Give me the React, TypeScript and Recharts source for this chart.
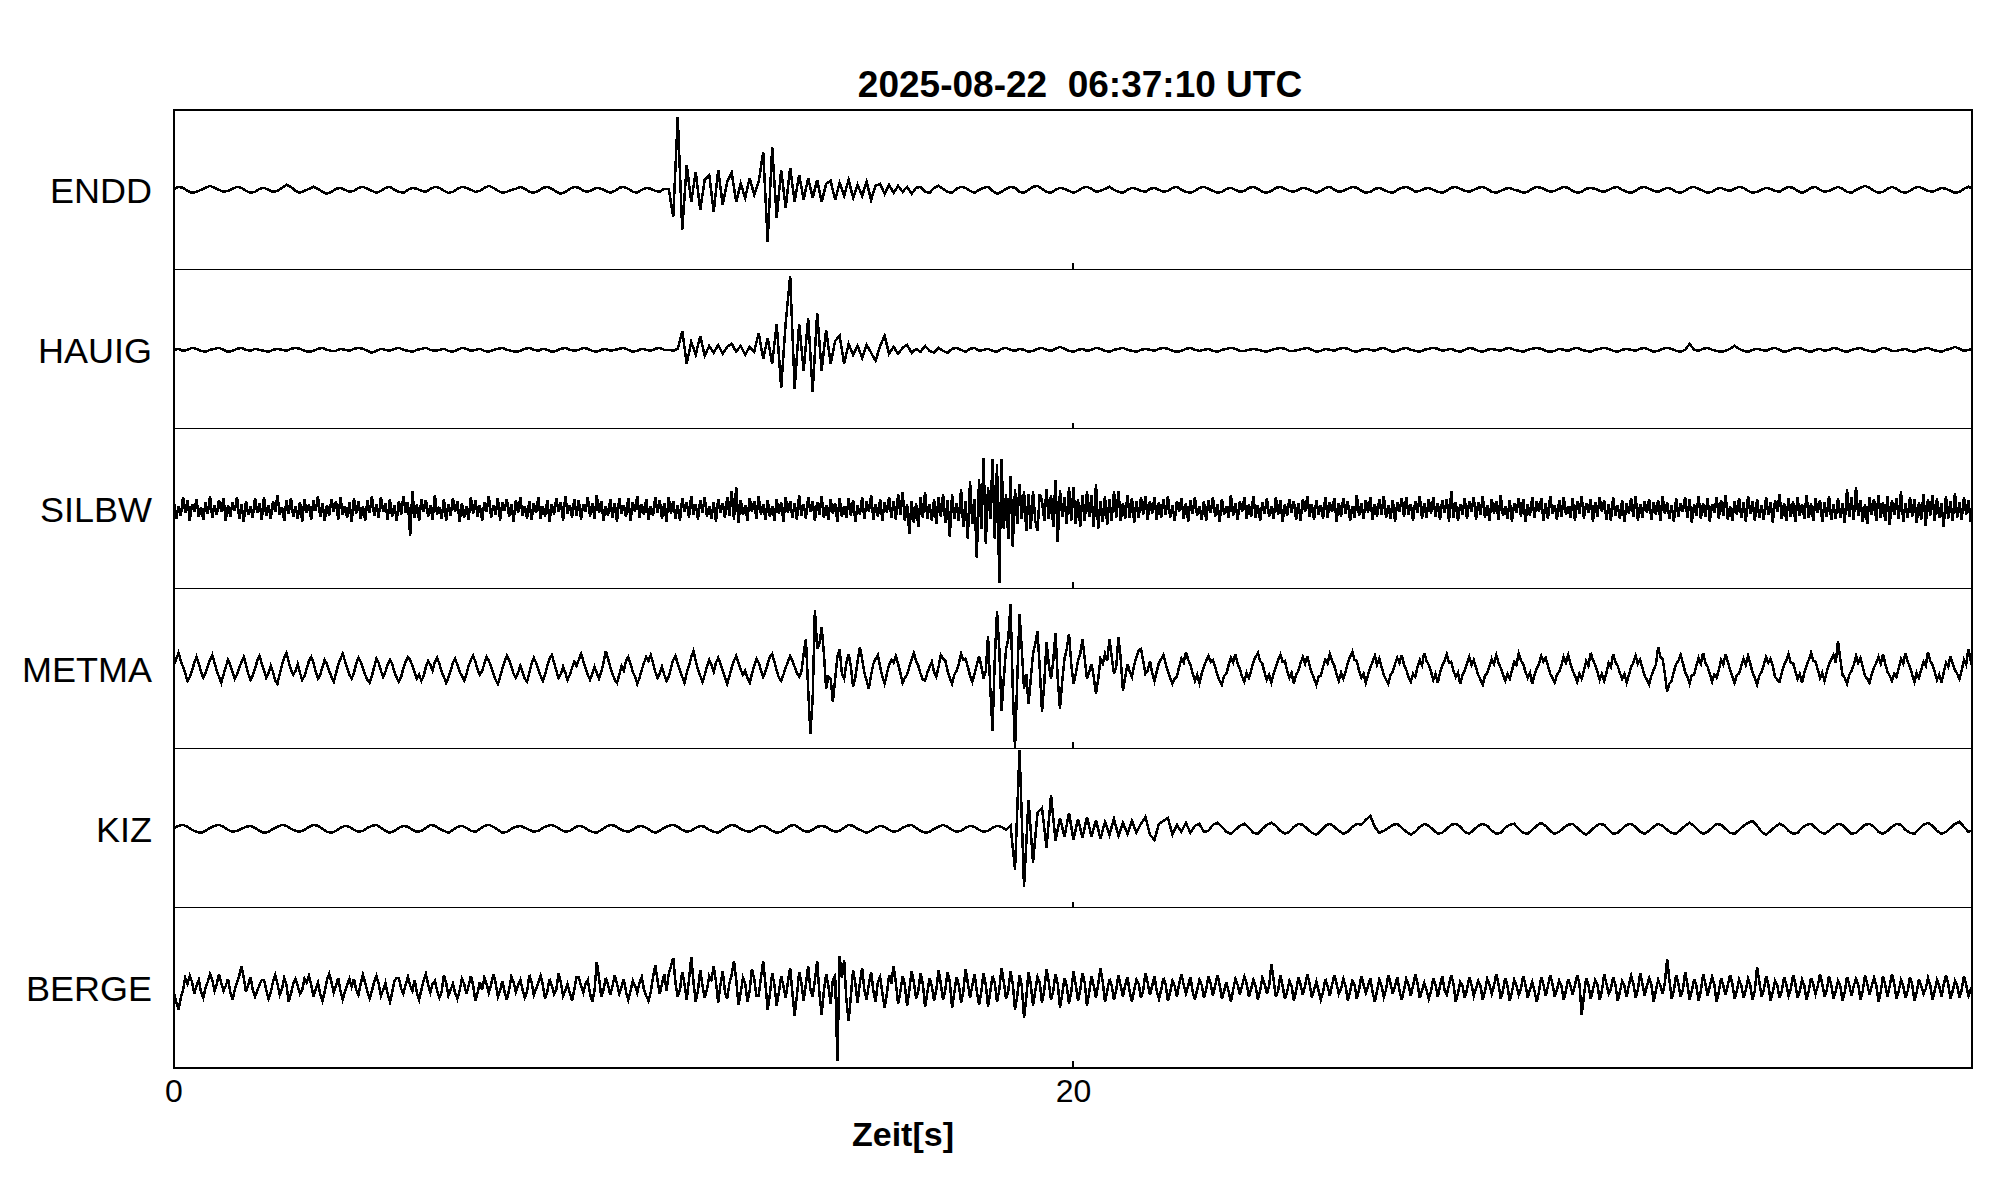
import React from 'react';
import { LineChart, Line, XAxis, YAxis, ReferenceLine } from 'recharts';

const TITLE = '2025-08-22  06:37:10 UTC';
const X_LABEL = 'Zeit[s]';
const X_TICKS = [0, 20];
const STATIONS = ['ENDD', 'HAUIG', 'SILBW', 'METMA', 'KIZ', 'BERGE'];
// seconds between samples of each trace (same order as STATIONS)
const SAMPLE_INTERVALS = [0.1, 0.1, 0.05, 0.05, 0.1, 0.05];

// amplitudes in screen-scaled counts, 0..40 s
const ENDD = [
  1,3,2,-1,-3,-2,0,2,4,2,
  0,-2,-1,1,3,2,-1,-3,-2,1,
  2,0,-2,-1,2,5,3,-1,-3,-1,
  1,3,1,-2,-4,-2,1,2,0,-2,
  -1,2,3,1,-1,-3,-1,2,3,0,
  -2,-3,0,2,1,-1,-2,1,3,2,
  -1,-3,-2,1,3,2,0,-2,-1,2,
  4,2,-1,-3,-2,0,1,3,1,-2,
  -3,-1,2,3,1,-2,-4,-2,1,3,
  2,-1,-2,0,2,1,-1,-3,-1,2,
  3,1,-2,-3,0,2,1,-1,-2,1,
  1,-27,73,-40,25,-12,18,-20,10,15,
  -22,20,-15,8,17,-12,6,-8,12,-5,
  8,38,-52,43,-28,20,-18,22,-12,15,
  -10,12,-8,10,-12,6,9,-10,7,-6,
  10,-8,5,-6,8,-10,4,6,-4,5,
  -3,4,-2,3,-4,2,3,-2,-3,2,
  4,1,-2,-3,1,3,2,-1,-3,0,
  2,3,-1,-4,-2,1,3,2,-2,-3,
  0,3,4,1,-2,-3,0,2,1,-1,
  -3,-1,2,3,1,-2,-1,1,3,0,
  -2,-3,0,2,1,-1,-2,1,2,0,
  -2,-1,2,3,0,-2,-3,-1,2,3,
  1,-1,-3,-2,1,2,0,-2,-1,2,
  3,1,-2,-3,-1,2,3,1,-1,-2,
  0,2,1,-1,-3,-1,2,3,0,-2,
  -1,1,3,2,-1,-3,-2,1,2,0,
  -2,-3,0,2,3,1,-2,-1,1,2,
  0,-2,-3,-1,2,3,1,-1,-2,0,
  2,3,1,-2,-3,-1,1,2,0,-1,
  -3,-2,1,3,2,0,-2,-1,1,3,
  2,-1,-3,-2,1,2,1,-1,-2,0,
  2,3,0,-2,-3,-1,2,3,1,-1,
  -2,0,2,1,-2,-3,-1,2,3,1,
  -1,-3,-2,1,2,0,-1,1,3,2,
  -1,-3,-2,0,2,1,-1,-2,1,3,
  2,-1,-3,-1,2,3,0,-2,-1,1,
  3,1,-2,-3,0,2,4,2,-1,-3,
  -2,1,3,1,-2,-3,-1,2,3,1,
  -1,-2,0,2,1,-1,-3,-2,1,3,
  1,
];

const HAUIG = [
  0,1,-1,0,2,1,-1,-2,0,1,
  2,0,-2,-1,1,2,0,-1,1,0,
  -1,-2,0,1,0,-1,1,2,1,-1,
  -2,-1,1,2,0,-1,-1,1,0,-1,
  1,2,1,-1,-3,-1,1,0,-1,1,
  2,0,-1,-2,0,1,2,0,-1,0,
  1,-1,-2,0,2,1,-1,0,1,-1,
  -2,0,1,2,0,-1,-2,-1,1,2,
  0,-1,1,0,-2,-1,1,2,0,-1,
  0,2,1,-1,-2,0,1,-1,0,1,
  2,0,-2,-1,1,0,-1,1,2,0,
  0,-1,1,19,-14,8,-5,14,-6,4,
  -3,5,-4,3,6,-2,4,-5,3,-2,
  17,-9,12,-14,26,-38,27,74,-39,26,
  -21,32,-42,37,-21,20,-14,9,14,-14,
  6,-5,4,-8,5,-3,-11,4,14,-4,
  3,-4,2,5,-3,1,-2,4,-1,-3,
  2,-1,-3,1,2,0,-2,1,2,-1,
  0,1,-1,-2,1,2,0,-1,1,0,
  -2,-1,1,2,0,-1,1,3,1,-1,
  -2,0,1,-1,0,2,1,-1,-2,0,
  1,2,0,-1,-2,0,1,0,-1,1,
  2,1,-1,-2,-1,1,2,0,-1,0,
  1,-1,-2,0,1,2,1,-1,-1,0,
  1,0,-1,-2,0,1,2,1,-1,-1,
  0,1,2,0,-2,-1,1,0,-1,1,
  2,1,-1,-2,0,1,0,-1,1,2,
  0,-2,-1,1,2,0,-1,-2,0,1,
  2,1,-1,0,1,-1,-2,0,2,1,
  -1,-2,0,1,0,-1,1,2,0,-1,
  -2,0,1,2,1,-1,-2,-1,1,0,
  -1,1,2,0,-1,-2,0,1,2,1,
  -1,-2,0,1,0,-1,1,2,0,-2,
  -1,1,2,1,-1,-2,0,6,0,-1,
  1,2,0,-1,-2,-1,1,4,1,-1,
  -2,0,1,0,-1,1,2,0,-2,-1,
  1,2,1,-1,-2,0,1,-1,0,2,
  1,-1,-2,0,1,2,0,-1,-2,0,
  2,1,-1,-1,0,1,-1,-2,0,1,
  2,0,-1,-2,0,1,3,1,-1,0,
  1,
];

const SILBW = [
  6,-10,3,-7,12,-4,9,-12,5,-3,10,-8,2,-11,7,-5,13,-9,4,-6,
  9,-3,11,-12,4,-8,7,-2,12,-10,5,-13,8,-6,3,-9,11,-4,6,-11,
  12,-7,4,-10,8,-3,14,-6,2,-12,9,-5,11,-8,3,-10,7,-13,10,-4,
  5,-11,9,-2,13,-8,6,-12,4,-7,10,-3,8,-11,12,-6,3,-9,7,-13,
  11,-5,8,-10,3,-12,9,-4,13,-7,5,-9,12,-3,6,-11,10,-8,4,-12,
  8,-6,13,-4,7,-27,18,-9,5,-12,10,-3,9,-8,4,-11,14,-6,2,-10,
  10,-12,5,-7,11,-3,8,-13,6,-9,3,-11,12,-5,9,-8,4,-12,7,-3,
  13,-9,4,-6,11,-12,7,-2,10,-8,5,-13,9,-4,12,-7,3,-10,8,-11,
  6,-4,12,-10,3,-8,9,-13,5,-6,11,-3,7,-12,13,-5,4,-9,10,-7,
  9,-11,5,-3,12,-8,6,-10,14,-4,8,-12,3,-7,10,-9,6,-13,11,-5,
  4,-8,11,-12,7,-3,13,-9,5,-6,10,-11,3,-7,12,-4,9,-10,6,-13,
  12,-5,8,-10,4,-12,11,-3,7,-9,13,-6,5,-11,9,-4,12,-8,3,-10,
  7,-13,10,-4,6,-9,12,-7,18,-11,22,-14,9,-6,4,-12,11,-3,8,-10,
  13,-6,5,-11,9,-8,3,-12,10,-5,7,-13,12,-4,8,-9,6,-11,14,-7,
  5,-10,12,-3,8,-12,7,-6,13,-9,4,-11,10,-5,6,-13,11,-8,3,-9,
  11,-7,9,-13,4,-6,12,-10,8,-3,14,-11,5,-8,10,-12,7,-4,12,-9,
  8,-11,15,-6,17,-12,5,-25,8,-14,6,-18,12,-9,17,-10,5,-12,10,-15,
  12,-8,15,-14,9,-28,15,-10,6,-12,20,-18,8,-30,28,-15,10,-49,30,-20,
  51,-35,22,-10,50,-30,45,-74,50,-20,15,-30,33,-38,20,-15,25,-10,18,-22,
  15,-20,18,-12,-22,15,8,-12,20,-10,14,-18,29,-33,19,-8,12,-15,22,-12,
  22,-15,10,-18,14,-12,18,-8,14,-18,25,-20,8,-13,13,-16,10,-12,18,-9,
  18,-12,6,-10,14,-9,11,-14,8,-9,12,-6,13,-11,8,-5,12,-11,7,-9,
  10,-6,13,-9,4,-12,8,-3,11,-10,6,-13,9,-5,12,-7,3,-11,8,-12,
  9,-4,12,-8,5,-13,10,-6,3,-9,14,-7,6,-11,8,-3,12,-10,5,-8,
  13,-9,4,-12,7,-5,11,-8,3,-10,12,-6,9,-13,5,-7,10,-4,8,-11,
  6,-12,10,-3,13,-8,5,-11,9,-6,4,-10,12,-9,7,-3,11,-13,6,-8,
  11,-5,8,-12,3,-9,14,-7,6,-10,9,-4,12,-11,5,-8,10,-6,13,-9,
  4,-10,9,-13,7,-3,11,-8,12,-6,5,-12,8,-4,13,-10,6,-9,10,-5,
  12,-8,6,-11,9,-4,10,-13,18,-9,7,-12,5,-6,11,-10,8,-3,12,-11,
  7,-6,13,-9,4,-12,10,-5,8,-11,14,-7,3,-10,9,-13,6,-4,11,-8,
  10,-13,5,-7,12,-9,8,-3,11,-12,6,-10,13,-5,4,-11,9,-8,12,-6,
  3,-9,11,-12,8,-5,13,-10,6,-4,10,-13,7,-8,12,-3,9,-11,5,-12,
  12,-7,4,-10,9,-13,6,-5,11,-8,13,-12,5,-9,8,-4,10,-11,7,-6,
  9,-12,13,-5,7,-10,4,-13,11,-8,6,-3,12,-9,10,-14,5,-7,13,-10,
  6,-8,11,-13,5,-4,12,-10,9,-7,14,-11,3,-12,8,-6,11,-9,7,-13,
  13,-5,8,-12,10,-9,4,-11,12,-6,7,-14,9,-3,15,-10,6,-12,11,-8,
  8,-13,12,-7,5,-10,14,-9,6,-12,11,-4,9,-13,7,-8,13,-11,5,-10,
  11,-9,6,-14,20,-8,12,-11,22,-7,9,-13,5,-15,12,-6,10,-12,14,-9,
  7,-12,13,-16,9,-6,11,-10,18,-13,6,-9,12,-8,10,-14,7,-11,15,-17,
  10,-7,14,-12,11,-9,6,-18,13,-10,8,-12,16,-9,7,-11,12,-6,9,-13,
  8,
];

const METMA = [
  4,10,16,8,2,-5,-12,-8,-2,6,12,5,-3,-9,-4,3,9,14,6,-2,
  -8,-14,-6,2,9,4,-3,-10,-6,1,7,12,4,-5,-11,-7,0,8,13,5,
  -2,-9,-4,3,-3,-12,-15,-5,4,11,16,7,-1,-6,-2,5,-4,-11,-7,0,
  8,12,6,-3,-10,-6,2,9,5,-2,-8,-13,-5,4,10,15,8,1,-6,-10,
  -4,5,11,7,1,-6,-11,-14,-7,2,10,6,-2,-8,-3,4,9,5,-3,-9,
  -13,-8,1,7,12,9,3,-4,-10,-6,-12,-7,2,8,4,-2,7,11,5,-3,
  -8,-14,-9,-2,6,10,4,-3,-7,-12,-6,3,9,13,7,-1,-6,-2,5,12,
  8,2,-5,-11,-15,-8,0,7,13,9,2,-5,-9,-4,3,-3,-10,-13,-4,5,
  11,6,-1,-7,-12,-6,3,10,14,6,-2,-9,-5,2,-4,-11,-6,1,7,3,
  9,15,8,1,-6,-11,-5,2,-4,-10,-3,6,18,10,2,-5,-11,-14,-6,3,
  -2,8,12,5,-3,-8,-15,-9,-1,6,12,8,14,6,-3,-9,-5,2,-6,-12,
  -8,1,9,13,5,-2,-8,-14,-4,3,12,18,8,-1,-7,-13,-6,2,9,4,
  -3,6,11,5,-2,-9,-15,-7,1,8,13,6,-1,-6,-2,-9,-14,-5,3,10,
  6,-1,-8,-3,5,12,15,7,-2,-9,-12,-6,1,7,13,8,2,-4,-8,-3,
  15,30,-20,-65,-30,59,20,25,42,15,-20,-8,-10,-33,-10,12,20,-5,-10,6,
  15,2,-18,-8,8,22,10,-4,-12,-20,-6,5,10,14,2,-8,-15,-5,4,9,
  6,13,5,-4,-14,-9,-6,2,9,16,8,3,-5,-11,-12,-4,2,7,-3,-8,
  2,14,10,8,-2,-9,-15,-6,-2,5,15,9,10,2,-7,-13,-5,4,13,3,
  -10,-2,33,-20,-62,10,58,20,-42,-10,20,30,65,-20,-80,-10,55,20,-20,-5,
  -35,-10,15,25,38,0,-43,-15,27,5,-10,8,36,-10,-40,-12,10,20,35,5,
  -15,-5,8,15,30,10,-10,-3,5,-8,-25,-10,10,5,15,8,30,12,-5,2,
  32,10,-22,-8,5,-3,-8,4,12,18,20,8,-5,-2,8,-4,-12,-3,6,10,
  14,5,-3,-9,-15,-10,-8,2,10,6,17,9,4,-5,-12,-6,-14,-5,2,8,
  13,7,9,2,-6,-12,-16,-7,-5,4,11,6,15,5,0,-8,-13,-4,-9,-2,
  7,12,16,8,5,-4,-11,-6,-14,-5,2,9,14,7,8,-2,-9,-4,-15,-6,
  -2,6,12,5,13,3,-4,-10,-16,-8,-7,2,9,5,15,8,3,-5,-12,-4,
  -10,-3,6,12,17,9,8,-2,-9,-5,-14,-6,1,7,13,4,10,2,-6,-11,
  -15,-6,-3,5,11,6,14,4,-1,-8,-13,-5,-8,2,9,4,16,8,4,-3,
  -11,-5,-14,-4,3,8,15,6,7,-2,-8,-4,-15,-6,-2,5,12,4,9,1,
  -6,-11,-16,-7,-4,3,10,5,14,6,1,-6,-12,-5,-10,-2,7,4,15,8,
  5,-3,-9,-4,-15,-6,0,5,13,7,11,3,-5,-9,-14,-6,-3,4,12,6,
  14,5,-2,-7,-13,-5,-10,-2,8,3,16,9,4,-3,-11,-5,-12,-4,6,2,
  15,7,3,-4,-10,-5,-14,-6,2,6,13,5,9,1,-7,-11,-16,-7,-1,4,
  22,12,10,-5,-23,-15,-12,-3,5,8,14,6,-3,-8,-15,-6,-6,3,11,5,
  16,6,2,-5,-13,-6,-9,-1,9,4,15,7,-1,-8,-14,-6,-5,3,10,4,
  13,5,-4,-9,-16,-7,-3,4,12,6,10,3,-8,-11,-13,-4,4,8,15,6,
  6,-2,-10,-5,-14,-4,3,9,16,8,7,-1,-9,-4,-12,-3,5,9,14,6,
  28,10,-6,-9,-15,-6,-2,4,13,6,11,2,-7,-10,-14,-5,1,6,12,5,
  15,5,-3,-7,-12,-5,-8,1,10,5,16,7,2,-6,-13,-4,-9,-1,7,3,
  17,8,4,-3,-11,-6,-14,-4,6,2,13,5,-1,-5,-10,-2,9,4,20,8,
  14,
];

const KIZ = [
  1,3,4,2,-1,-3,-4,-2,1,3,
  4,2,-1,-3,-2,0,2,3,1,-2,
  -4,-3,0,2,4,3,0,-2,-3,-1,
  2,4,3,0,-3,-4,-2,1,3,2,
  -1,-3,-2,1,3,4,1,-2,-4,-2,
  1,3,2,-1,-3,-2,1,4,3,0,
  -2,-4,-1,2,3,1,-2,-3,0,3,
  4,2,-1,-4,-3,0,2,3,1,-1,
  -3,-2,1,3,4,2,-1,-3,-2,1,
  3,2,-1,-3,-4,-1,2,4,3,0,
  -2,-3,-1,2,3,1,-2,-4,-2,1,
  3,4,2,-1,-3,-2,1,3,2,-1,
  -3,-4,-1,2,4,3,0,-2,-3,-1,
  2,3,1,-2,-4,-3,0,3,4,1,
  -2,-3,-1,2,3,2,-1,-3,-2,1,
  4,3,0,-2,-4,-2,1,3,2,-1,
  -3,-2,1,3,4,1,-2,-4,-3,0,
  2,4,2,-1,-3,-2,1,3,2,-1,
  -3,-2,1,3,2,-1,3,-41,79,-58,
  29,-34,16,21,-19,34,-12,11,-8,16,
  -11,10,-9,12,-8,9,-10,7,-6,10,
  -7,6,-5,8,-4,5,12,-6,-11,5,
  8,11,-6,4,-3,6,-4,3,5,-3,
  -2,4,6,2,-3,-5,-1,3,5,1,
  -4,-5,0,4,6,3,-2,-5,-3,2,
  5,4,0,-4,-6,-2,3,5,2,-2,
  -5,-3,2,5,4,9,13,2,-4,-2,
  1,4,5,1,-3,-6,-3,2,5,3,
  -1,-5,-4,0,4,5,2,-3,-5,-1,
  3,5,3,-2,-5,-4,1,4,5,0,
  -4,-5,-1,3,6,3,-2,-5,-3,1,
  4,5,1,-3,-6,-2,2,5,4,-1,
  -5,-4,0,4,5,2,-3,-5,-2,2,
  5,3,-1,-4,-5,-1,3,6,3,-2,
  -5,-3,1,5,4,0,-4,-5,-1,3,
  6,8,3,-3,-6,-2,2,5,3,-2,
  -5,-4,1,4,5,1,-3,-5,-2,2,
  5,4,-1,-5,-4,0,4,5,2,-3,
  -5,-2,2,5,4,-1,-4,-5,0,4,
  6,3,-2,-5,-3,1,5,7,2,-3,
  -1,
];

const BERGE = [
  -5,-14,-22,-10,-2,10,4,12,6,-6,2,8,-4,-10,0,6,14,8,-3,4,
  14,5,-3,2,9,-4,-12,-2,5,12,22,10,-4,3,11,-2,-9,-3,3,8,
  8,-2,-11,-5,6,13,4,-7,-1,10,3,-14,-6,4,9,2,-6,-2,9,5,
  12,3,-9,-2,5,-6,-13,-4,8,14,6,-5,2,10,-3,-12,-4,3,9,1,
  9,-2,-7,4,13,5,-4,-11,-3,6,12,4,-8,-2,5,-6,-14,-5,7,10,
  10,-1,-6,3,11,2,-3,8,-5,-12,-2,7,14,3,-5,4,7,-3,-10,-4,
  13,5,-8,-2,4,-5,-11,-3,9,4,-6,2,12,3,-13,-5,6,-2,10,4,
  -5,3,14,5,-9,-3,7,-4,-12,-2,11,6,-4,3,8,-2,-10,-4,13,6,
  -7,-1,5,12,3,-11,-4,9,2,-6,-2,15,6,-8,-3,4,-5,-13,-2,11,
  11,2,-5,4,8,-6,-14,-3,26,10,-9,-2,10,3,-7,2,13,4,-6,1,
  9,-4,-12,-3,7,2,-5,5,11,-2,-8,-13,-4,10,23,8,-6,4,14,-3,
  14,22,30,5,-9,-2,16,4,-12,8,31,6,-14,-3,18,2,-10,-2,12,8,
  22,6,-15,3,17,-4,-11,5,13,27,8,-17,-5,10,4,-14,-3,19,9,-8,
  -8,10,27,4,-22,-6,15,3,-18,-4,12,2,-10,6,20,-5,-28,-8,16,5,
  -13,4,22,-2,-9,8,27,-5,-27,-3,14,2,-16,8,12,-73,32,10,28,-12,
  -33,-8,18,4,-15,5,20,-2,-12,4,16,-3,-14,6,11,-5,-20,-6,13,4,
  22,5,-16,-4,12,3,-18,-2,17,6,-11,-3,15,4,-19,-5,10,2,-13,-2,
  18,4,-12,-2,16,6,-20,-5,11,3,-15,-4,19,5,-10,2,14,-3,-17,-4,
  15,3,-19,-4,12,5,-14,-2,20,6,-11,-3,17,4,-22,-8,13,2,-30,-10,
  16,4,-18,-3,11,5,-15,-2,19,6,-12,-3,14,4,-20,-6,10,2,-16,-4,
  17,3,-13,-2,15,5,-18,-4,12,2,-10,4,20,6,-14,-3,9,2,-12,-2,
  13,2,-9,3,11,-4,-14,-2,8,4,-10,-3,15,5,-7,2,12,-3,-11,-2,
  10,3,-13,-4,7,2,-9,4,14,3,-6,2,11,-4,-12,-2,8,3,-10,-2,
  12,4,-8,2,13,3,-11,-3,6,-4,-14,-2,9,3,-7,2,11,4,-9,-1,
  8,2,-12,-3,10,4,-6,2,24,8,-9,-3,13,2,-11,-4,7,2,-13,-3,
  11,3,-7,2,14,4,-10,-2,6,-3,-12,-4,9,2,-8,3,13,4,-6,-1,
  9,2,-13,-4,7,3,-11,-2,12,3,-5,2,10,-4,-14,-3,8,2,-9,-2,
  13,4,-6,2,11,-3,-12,-2,9,3,-8,2,14,4,-10,-3,5,-2,-11,-3,
  10,3,-9,2,12,-2,-7,3,13,4,-14,-5,6,2,-10,-2,11,3,-8,-1,
  7,2,-12,-3,9,3,-6,2,14,4,-11,-3,10,2,-13,-4,8,2,-7,-1,
  12,3,-10,-2,6,-3,-14,-4,11,3,-8,2,13,4,-9,-2,7,2,-12,-3,
  9,2,-7,3,13,4,-27,-8,10,3,-11,-2,8,3,-12,-3,14,4,-6,-1,
  11,3,-13,-4,7,2,-9,3,12,4,-10,-2,15,4,-8,2,10,3,-14,-3,
  8,2,-6,5,29,8,-11,-3,13,4,-9,-2,16,4,-12,-3,9,2,-13,-3,
  14,4,-8,2,11,3,-14,-4,10,2,-7,3,13,4,-11,-3,8,2,-10,-2,
  9,2,-12,-3,21,6,-9,-2,12,3,-13,-4,7,2,-10,-3,11,3,-8,-1,
  13,4,-10,-3,8,2,-12,-3,10,3,-6,2,14,4,-9,-2,12,3,-11,-3,
  7,2,-13,-4,11,3,-8,2,9,3,-12,-3,13,4,-7,2,10,3,-14,-4,
  12,3,-9,2,14,4,-11,-3,8,2,-10,-3,11,3,-13,-4,9,2,-6,-1,
  10,3,-12,-3,8,2,-9,3,13,4,-11,-3,7,2,-10,-2,12,3,-8,-2,
  4,
];

const TRACES = [ENDD, HAUIG, SILBW, METMA, KIZ, BERGE];

const FONT = '"Liberation Sans", Arial, Helvetica, sans-serif';
const PLOT_LEFT = 174;
const CHART_W = 1973;
const PLOT_TOP = 110;
const PLOT_BOTTOM = 1068;
const PANEL_H = (PLOT_BOTTOM - PLOT_TOP) / STATIONS.length;

function Panel({ name, values, step, index }: { name: string; values: number[]; step: number; index: number }) {
  const last = index === STATIONS.length - 1;
  const data = values.map((v, i) => ({ t: i * step, v }));
  const axisH = 70;
  return (
    <div style={{ position: 'absolute', left: 0, top: PLOT_TOP + index * PANEL_H }}>
      <LineChart
        width={CHART_W}
        height={last ? PANEL_H + axisH : PANEL_H}
        data={data}
        margin={{ top: 0, right: 0, bottom: 0, left: 0 }}
      >
        <XAxis
          type="number"
          dataKey="t"
          domain={[0, 40]}
          ticks={X_TICKS}
          hide={!last}
          height={axisH}
          axisLine={false}
          tickLine={false}
          tickSize={0}
          tickMargin={12}
          tick={{ fontSize: 32, fill: '#000', fontFamily: FONT }}
          allowDataOverflow
        />
        <YAxis
          type="number"
          domain={[-80, 80]}
          allowDataOverflow
          width={PLOT_LEFT}
          ticks={[0]}
          tickFormatter={() => name}
          axisLine={false}
          tickLine={false}
          tickSize={0}
          tickMargin={22}
          tick={{ fontSize: 36, fill: '#000', fontFamily: FONT }}
        />
        <ReferenceLine
          segment={[{ x: 20, y: -80 }, { x: 20, y: -73 }]}
          stroke="#000"
          strokeWidth={2}
          ifOverflow="visible"
        />
        <Line
          type="linear"
          dataKey="v"
          stroke="#000"
          strokeWidth={2.5}
          dot={false}
          isAnimationActive={false}
        />
      </LineChart>
    </div>
  );
}

export default function App() {
  return (
    <div
      style={{
        position: 'absolute',
        left: 0,
        top: 0,
        width: 2005,
        height: 1202,
        background: '#fff',
        fontFamily: FONT,
        shapeRendering: 'crispEdges',
      } as React.CSSProperties}
    >
      {STATIONS.map((s, i) => (
        <Panel key={s} name={s} values={TRACES[i]} step={SAMPLE_INTERVALS[i]} index={i} />
      ))}
      {/* panel frame */}
      <div
        style={{
          position: 'absolute',
          left: PLOT_LEFT - 1,
          top: PLOT_TOP - 1,
          width: CHART_W - PLOT_LEFT + 1,
          height: PLOT_BOTTOM - PLOT_TOP + 2,
          border: '2px solid #000',
          boxSizing: 'border-box',
        }}
      />
      {STATIONS.slice(1).map((s, i) => (
        <div
          key={'d' + s}
          style={{
            position: 'absolute',
            left: PLOT_LEFT,
            top: Math.round(PLOT_TOP + (i + 1) * PANEL_H) - 1,
            width: CHART_W - PLOT_LEFT,
            height: 1,
            background: '#000',
          }}
        />
      ))}
      <svg width={2005} height={1202} style={{ position: 'absolute', left: 0, top: 0, pointerEvents: 'none' }}>
        <text x={1080} y={97} textAnchor="middle" fontSize={37} fontWeight="bold" fontFamily={FONT} style={{ whiteSpace: 'pre' }}>
          {TITLE}
        </text>
        <text x={903} y={1146} textAnchor="middle" fontSize={34} fontWeight="bold" fontFamily={FONT}>
          {X_LABEL}
        </text>
      </svg>
    </div>
  );
}
